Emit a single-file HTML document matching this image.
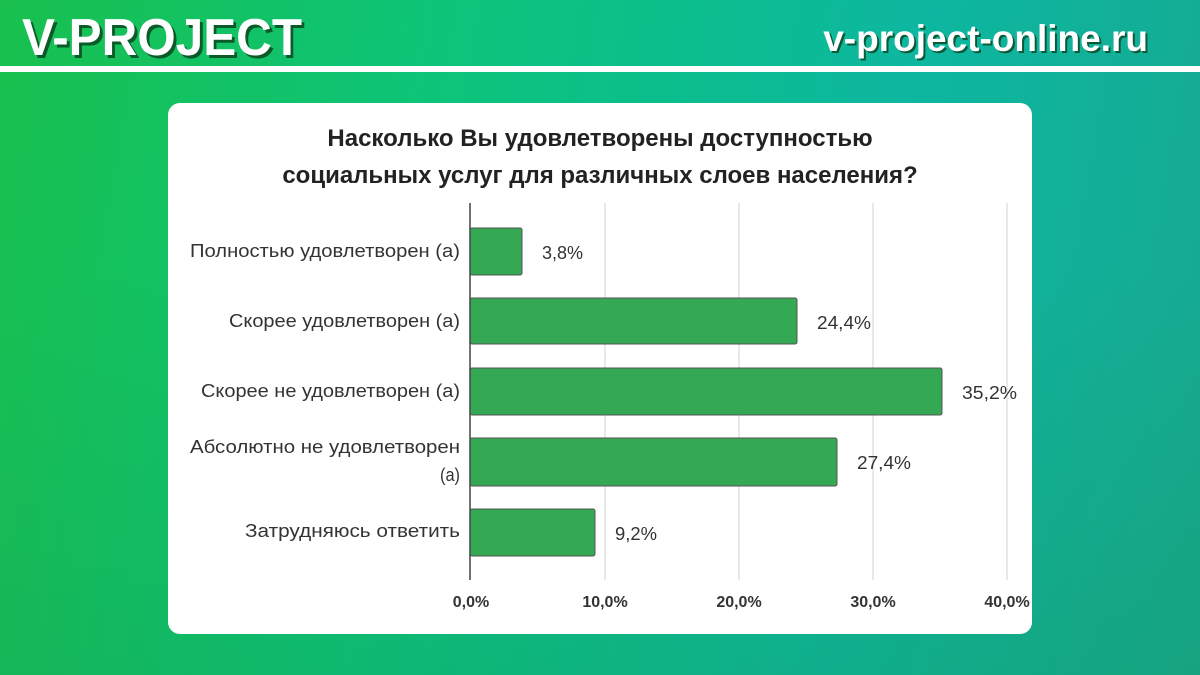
<!DOCTYPE html>
<html><head><meta charset="utf-8"><style>
body{margin:0;width:1200px;height:675px;overflow:hidden;font-family:"Liberation Sans",sans-serif;}
.bg{position:absolute;inset:0;background:linear-gradient(100deg,#19c04e 0%,#0cc47a 35%,#0db7a0 70%,#17a890 100%);}
.bg2{position:absolute;inset:0;background:linear-gradient(180deg,rgba(0,0,0,0) 40%,rgba(20,150,80,.25) 100%);}
.line{position:absolute;left:0;top:66px;width:1200px;height:6px;background:#fff;}
.logo{position:absolute;left:22px;top:8px;font-size:52px;font-weight:bold;color:#fff;text-shadow:3px 3px 0 #0a5a2a;transform:scaleX(0.95);transform-origin:left top;}
.url{position:absolute;right:52px;top:18px;font-size:37px;font-weight:bold;color:#fff;text-shadow:2px 2px 0 #0a5a3a;}
.card{position:absolute;left:168px;top:103px;width:864px;height:531px;background:#fff;border-radius:12px;}
</style></head><body>
<div class="bg"></div><div class="bg2"></div>
<div class="line"></div>
<div class="logo">V-PROJECT</div>
<div class="url">v-project-online.ru</div>
<div class="card"></div>
<svg width="1200" height="675" style="position:absolute;left:0;top:0" font-family="Liberation Sans, sans-serif">
<text x="600" y="146" text-anchor="middle" font-size="24" font-weight="bold" fill="#222">Насколько Вы удовлетворены доступностью</text>
<text x="600" y="183" text-anchor="middle" font-size="24" font-weight="bold" fill="#222">социальных услуг для различных слоев населения?</text>
<g stroke="#d0d0d0" stroke-width="1">
<line x1="605" y1="203" x2="605" y2="580"/><line x1="739" y1="203" x2="739" y2="580"/><line x1="873" y1="203" x2="873" y2="580"/><line x1="1007" y1="203" x2="1007" y2="580"/>
</g>
<g fill="#34a853" stroke="#555" stroke-width="1">
<rect x="470" y="228" width="52" height="47" rx="2"/>
<rect x="470" y="298" width="327" height="46" rx="2"/>
<rect x="470" y="368" width="472" height="47" rx="2"/>
<rect x="470" y="438" width="367" height="48" rx="2"/>
<rect x="470" y="509" width="125" height="47" rx="2"/>
</g>
<line x1="470" y1="203" x2="470" y2="580" stroke="#444" stroke-width="1.5"/>
<g font-size="18" fill="#333">
<text x="190" y="257" textLength="270" lengthAdjust="spacingAndGlyphs">Полностью удовлетворен (а)</text>
<text x="229" y="327" textLength="231" lengthAdjust="spacingAndGlyphs">Скорее удовлетворен (а)</text>
<text x="201" y="397" textLength="259" lengthAdjust="spacingAndGlyphs">Скорее не удовлетворен (а)</text>
<text x="190" y="453" textLength="270" lengthAdjust="spacingAndGlyphs">Абсолютно не удовлетворен</text>
<text x="440" y="481" textLength="20" lengthAdjust="spacingAndGlyphs">(а)</text>
<text x="245" y="537" textLength="215" lengthAdjust="spacingAndGlyphs">Затрудняюсь ответить</text>
</g>
<g font-size="18" fill="#333">
<text x="542" y="259" textLength="41" lengthAdjust="spacingAndGlyphs">3,8%</text>
<text x="817" y="329" textLength="54" lengthAdjust="spacingAndGlyphs">24,4%</text>
<text x="962" y="399" textLength="55" lengthAdjust="spacingAndGlyphs">35,2%</text>
<text x="857" y="469" textLength="54" lengthAdjust="spacingAndGlyphs">27,4%</text>
<text x="615" y="540" textLength="42" lengthAdjust="spacingAndGlyphs">9,2%</text>
</g>
<g font-size="16" font-weight="bold" fill="#333" text-anchor="middle">
<text x="471" y="607">0,0%</text><text x="605" y="607">10,0%</text><text x="739" y="607">20,0%</text><text x="873" y="607">30,0%</text><text x="1007" y="607">40,0%</text>
</g>
</svg>
</body></html>
